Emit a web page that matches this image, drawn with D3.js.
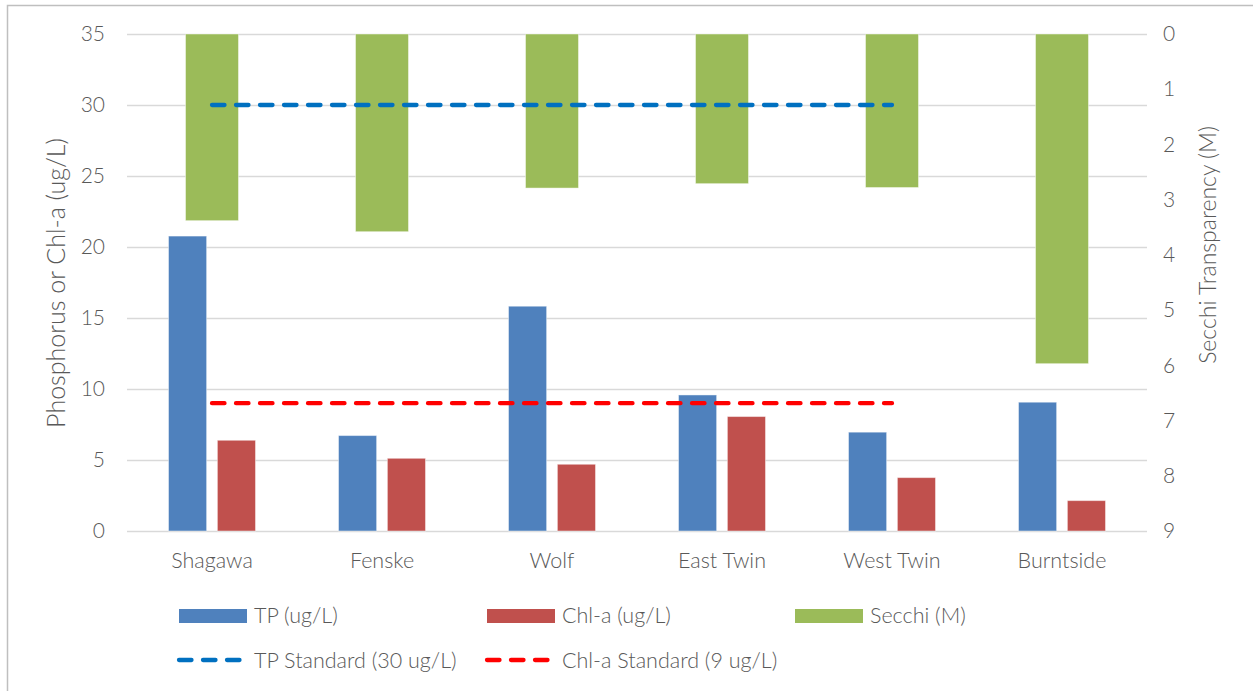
<!DOCTYPE html>
<html>
<head>
<meta charset="utf-8">
<script src="https://cdn.jsdelivr.net/npm/d3@7"></script>
<style>
  body { margin: 0; background: #fff; }
  text { font-family: Lato, "Liberation Sans Narrow", sans-serif; font-weight: 300; fill: #595959; }
</style>
</head>
<body>
<div id="container"></div>
<script>
// values
let lakes = ["Shagawa", "Fenske", "Wolf", "East Twin", "West Twin", "Burntside"];
let tp = [20.77, 6.72, 15.83, 9.58, 6.96, 9.07];
let chla = [6.39, 5.12, 4.70, 8.06, 3.76, 2.14];
let secchi = [3.38, 3.58, 2.79, 2.71, 2.78, 5.97];
let tpStandard = [30, 30, 30, 30, 30, null];
let chlaStandard = [9, 9, 9, 9, 9, null];
let leftTicks = [0, 5, 10, 15, 20, 25, 30, 35];
let rightTicks = [0, 1, 2, 3, 4, 5, 6, 7, 8, 9];

let w = 1253;
let h = 691;
let plotLeft = 127, plotRight = 1147, plotTop = 34, plotBottom = 531;

let blue = "#4F81BD", red = "#C0504D", green = "#9BBB59";
let stdBlue = "#0070C0", stdRed = "#FF0000";
let textColor = "#595959";

let viz = d3.select("#container")
  .append("svg")
  .attr("width", w)
  .attr("height", h);

// chart frame
viz.append("rect")
  .attr("x", 7.5).attr("y", 5.5)
  .attr("width", w).attr("height", h)
  .attr("fill", "none")
  .attr("stroke", "#BFBFBF")
  .attr("stroke-width", 1.5);

let x = d3.scaleBand().domain(lakes).range([plotLeft, plotRight]);
let yL = d3.scaleLinear().domain([0, 35]).range([plotBottom, plotTop]);
let yR = d3.scaleLinear().domain([0, 9]).range([plotTop, plotBottom]);
let xSub = d3.scaleBand().domain(["tp", "chla"]).range([-43.5, 43.5]).paddingInner(0.22);
let secchiWidth = 53;

// left axis + gridlines
let leftAxis = viz.append("g")
  .attr("transform", "translate(" + plotLeft + ",0)")
  .call(d3.axisLeft(yL).tickValues(leftTicks).tickSize(-(plotRight - plotLeft)).tickPadding(22));
leftAxis.select(".domain").remove();
leftAxis.selectAll(".tick line").attr("stroke", "#D9D9D9").attr("stroke-width", 1.3);
leftAxis.selectAll(".tick text").attr("font-size", "21px").attr("fill", textColor);

// right axis
let rightAxis = viz.append("g")
  .attr("transform", "translate(" + plotRight + ",0)")
  .call(d3.axisRight(yR).tickValues(rightTicks).tickSize(0).tickPadding(16));
rightAxis.select(".domain").remove();
rightAxis.selectAll(".tick text").attr("font-size", "21px").attr("fill", textColor);

// category axis
let xAxis = viz.append("g")
  .attr("transform", "translate(0," + plotBottom + ")")
  .call(d3.axisBottom(x).tickSize(0).tickPadding(22));
xAxis.select(".domain").remove();
xAxis.selectAll(".tick text").attr("font-size", "21.5px").attr("fill", textColor);

// axis titles
viz.append("text")
  .attr("transform", "translate(65,283) rotate(-90)")
  .attr("text-anchor", "middle")
  .attr("font-size", "25px")
  .text("Phosphorus or Chl-a (ug/L)");

viz.append("text")
  .attr("transform", "translate(1216,245) rotate(-90)")
  .attr("text-anchor", "middle")
  .attr("font-size", "23px")
  .text("Secchi Transparency (M)");

// primary bars
let bars = viz.append("g");
bars.selectAll(".tp").data(lakes).enter()
  .append("rect")
  .attr("x", (d, i) => x(d) + x.bandwidth() / 2 + xSub("tp"))
  .attr("y", (d, i) => yL(tp[i]))
  .attr("width", xSub.bandwidth())
  .attr("height", (d, i) => yL(0) - yL(tp[i]))
  .attr("fill", blue)
  .attr("stroke", "rgba(255,255,255,0.45)")
  .attr("stroke-width", 1);

bars.selectAll(".chla").data(lakes).enter()
  .append("rect")
  .attr("x", (d, i) => x(d) + x.bandwidth() / 2 + xSub("chla"))
  .attr("y", (d, i) => yL(chla[i]))
  .attr("width", xSub.bandwidth())
  .attr("height", (d, i) => yL(0) - yL(chla[i]))
  .attr("fill", red)
  .attr("stroke", "rgba(255,255,255,0.45)")
  .attr("stroke-width", 1);

// secchi bars hang from the reversed secondary axis
bars.selectAll(".secchi").data(lakes).enter()
  .append("rect")
  .attr("x", d => x(d) + x.bandwidth() / 2 - secchiWidth / 2)
  .attr("y", yR(0))
  .attr("width", secchiWidth)
  .attr("height", (d, i) => yR(secchi[i]) - yR(0))
  .attr("fill", green)
  .attr("stroke", "rgba(255,255,255,0.45)")
  .attr("stroke-width", 1);

// standards
let line = d3.line()
  .defined(d => d.v != null)
  .x(d => x(d.lake) + x.bandwidth() / 2)
  .y(d => yL(d.v));

function drawStandard(values, color) {
  viz.append("path")
    .attr("d", line(lakes.map((l, i) => ({ lake: l, v: values[i] }))))
    .attr("fill", "none")
    .attr("stroke", color)
    .attr("stroke-width", 4.3)
    .attr("stroke-linecap", "round")
    .attr("stroke-dasharray", "12.5,11.5");
}
drawStandard(tpStandard, stdBlue);
drawStandard(chlaStandard, stdRed);

// legend
let legendBars = [
  { name: "TP (ug/L)", color: blue, x: 179 },
  { name: "Chl-a (ug/L)", color: red, x: 487 },
  { name: "Secchi (M)", color: green, x: 795 }
];
let legendLines = [
  { name: "TP Standard (30 ug/L)", color: stdBlue, x: 179 },
  { name: "Chl-a Standard (9 ug/L)", color: stdRed, x: 487 }
];

let legend = viz.append("g");
legendBars.forEach(d => {
  legend.append("rect")
    .attr("x", d.x).attr("y", 609)
    .attr("width", 68).attr("height", 14)
    .attr("fill", d.color);
  legend.append("text")
    .attr("x", d.x + 75).attr("y", 623)
    .attr("font-size", "21.5px")
    .text(d.name);
});
legendLines.forEach(d => {
  legend.append("line")
    .attr("x1", d.x).attr("x2", d.x + 62)
    .attr("y1", 660).attr("y2", 660)
    .attr("stroke", d.color)
    .attr("stroke-width", 4.3)
    .attr("stroke-linecap", "round")
    .attr("stroke-dasharray", "12.5,11.5");
  legend.append("text")
    .attr("x", d.x + 75).attr("y", 668)
    .attr("font-size", "21.5px")
    .text(d.name);
});
</script>
</body>
</html>
